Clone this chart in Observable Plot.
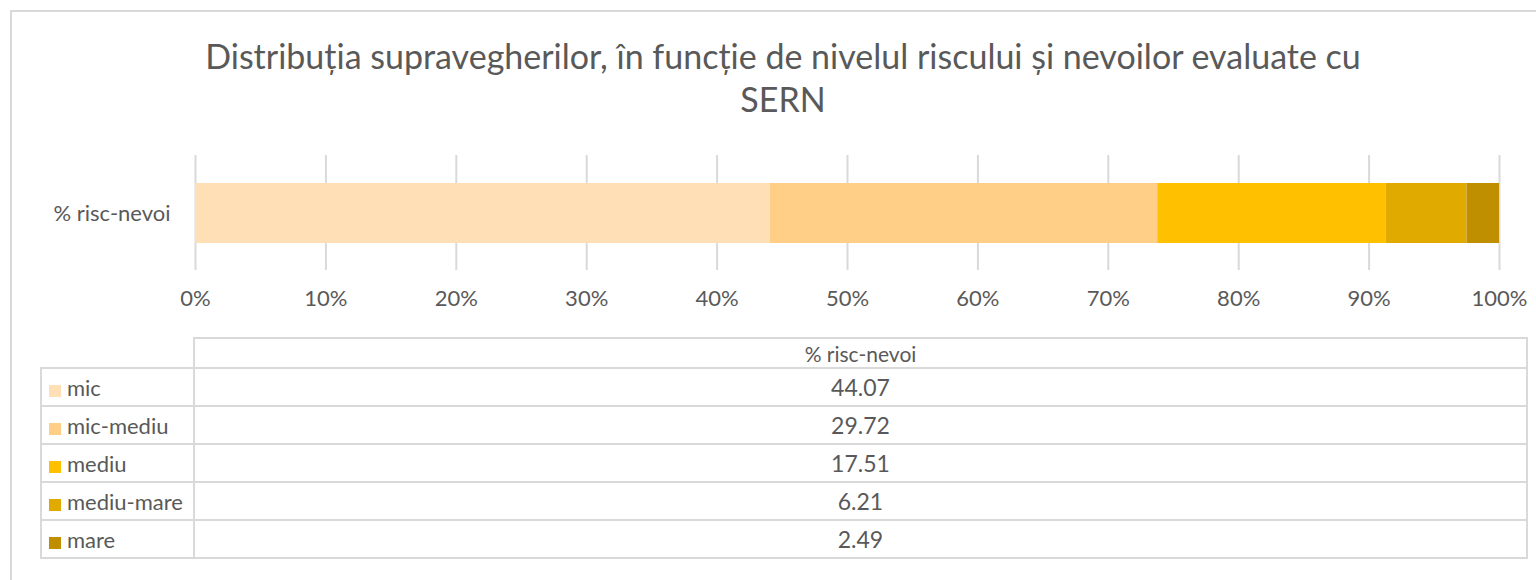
<!DOCTYPE html>
<html>
<head>
<meta charset="utf-8">
<script src="https://cdn.jsdelivr.net/npm/d3@7"></script>
<script src="https://cdn.jsdelivr.net/npm/@observablehq/plot@0.6"></script>
<style>
  html, body { margin: 0; padding: 0; background: #fff; }
  body { width: 1536px; height: 580px; position: relative; overflow: hidden; font-family: Lato, "Open Sans", sans-serif; color: #595959; }
  #frame { position: absolute; left: 10px; top: 10px; width: 1560px; height: 600px; border: 2px solid #d9d9d9; box-sizing: border-box; }
  #title { position: absolute; left: 183px; width: 1200px; top: 34px; text-align: center; font-size: 34px; line-height: 43px; color: #595959; white-space: nowrap; }
  #chart { position: absolute; left: 0; top: 140px; }
  #tbl { position: absolute; left: 40px; top: 337px; border-collapse: collapse; font-size: 22px; color: #595959; }
  #tbl td { border: 2px solid #d9d9d9; padding: 0; }
  #tbl td.lab { width: 153px; height: 38px; padding-left: 7px; box-sizing: border-box; text-align: left; white-space: nowrap; }
  #tbl td.val { width: 1331px; text-align: center; font-size: 23px; }
  #tbl tr.hdr td { height: 28px; text-align: center; }
  #tbl tr.hdr td.val { font-size: 21px; }
  #tbl tr.hdr td.blank { border-top: none; border-left: none; }
  .sw { display: inline-block; width: 12px; height: 12px; margin-right: 6px; vertical-align: -1px; }
</style>
</head>
<body>
<div id="frame"></div>
<div id="title">Distribuția supravegherilor, în funcție de nivelul riscului și nevoilor evaluate cu<br>SERN</div>
<div id="chart"></div>
<table id="tbl"></table>
<script>
const category = "% risc-nevoi";
const levels = ["mic", "mic-mediu", "mediu", "mediu-mare", "mare"];
const values = [44.07, 29.72, 17.51, 6.21, 2.49];
const colors = ["#FFDFB5", "#FFCF87", "#FFC000", "#E1AA00", "#BF8F00"];
const xTicks = [0, 0.1, 0.2, 0.3, 0.4, 0.5, 0.6, 0.7, 0.8, 0.9, 1];

const data = levels.map((l, i) => ({cat: category, level: l, value: values[i]}));

const plot = Plot.plot({
  width: 1536,
  height: 190,
  marginLeft: 195,
  marginRight: 37,
  marginTop: 15,
  marginBottom: 60,
  style: {fontFamily: "Lato, 'Open Sans', sans-serif", fontSize: "22px", color: "#595959", background: "transparent"},
  x: {domain: [0, 1]},
  y: {domain: [category], padding: 0.314},
  color: {domain: levels, range: colors},
  marks: [
    Plot.gridX(xTicks, {stroke: "#d9d9d9", strokeOpacity: 1, strokeWidth: 2}),
    Plot.barX(data, Plot.stackX({x: "value", y: "cat", fill: "level", offset: "normalize", order: null})),
    Plot.axisX(xTicks, {tickSize: 0, tickPadding: 20, tickFormat: d3.format(".0%"), label: null, fill: "#595959"}),
    Plot.axisY({tickSize: 0, tickPadding: 25, label: null, fill: "#595959"})
  ]
});
document.getElementById("chart").appendChild(plot);

const tbl = d3.select("#tbl");
const hdr = tbl.append("tr").attr("class", "hdr");
hdr.append("td").attr("class", "lab blank");
hdr.append("td").attr("class", "val").text(category);
levels.forEach((l, i) => {
  const tr = tbl.append("tr");
  const td = tr.append("td").attr("class", "lab");
  td.append("span").attr("class", "sw").style("background", colors[i]);
  td.append("span").text(l);
  tr.append("td").attr("class", "val").text(values[i].toFixed(2));
});
</script>
</body>
</html>
